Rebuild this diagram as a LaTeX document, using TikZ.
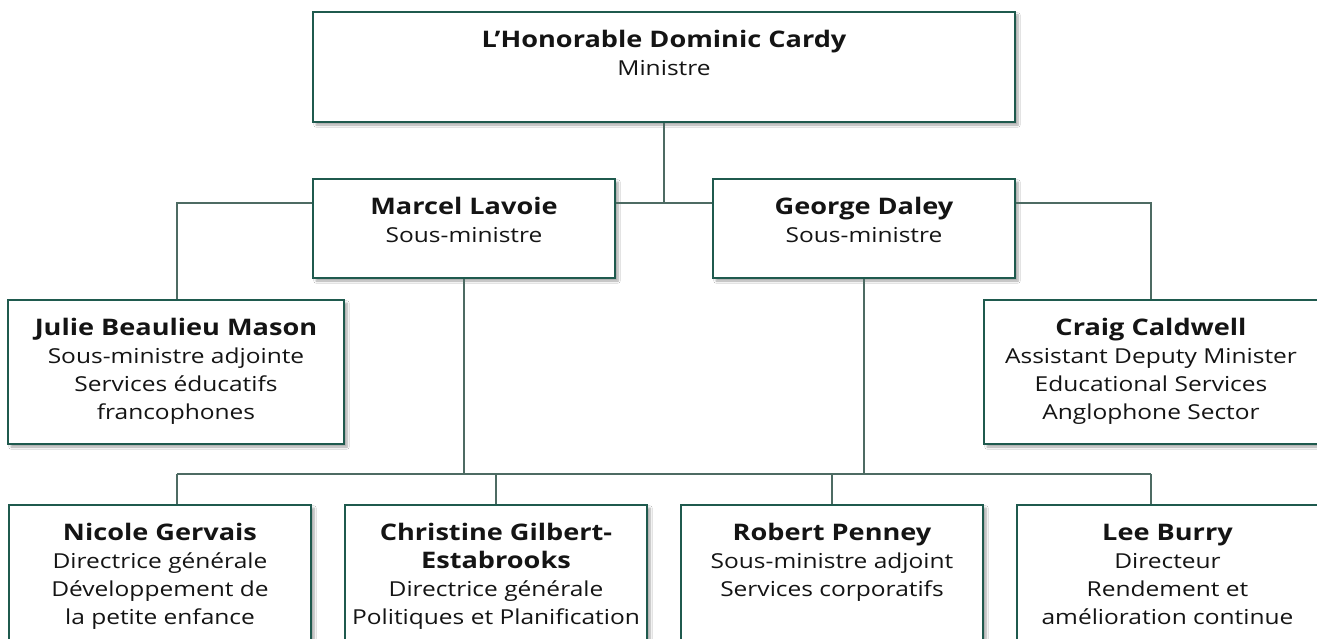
\documentclass[tikz,border=0pt]{standalone}
\usepackage{fontspec}
\setmainfont{Open Sans}[FakeStretch=1.19]
\usetikzlibrary{shadows.blur}
\definecolor{boxc}{HTML}{1F5A4E}
\definecolor{linec}{HTML}{4D6B63}
\tikzset{
  orgbox/.style={draw=boxc, line width=1.3pt, fill=white, inner sep=0pt,
    blur shadow={shadow xshift=3pt, shadow yshift=-3pt, shadow blur steps=6, shadow opacity=35}},
  lbl/.style={inner sep=0pt, align=center, font=\fontsize{20.6}{28}\selectfont, text=black!92},
  conn/.style={draw=linec, line width=1.6pt}
}
\newcommand{\nm}[1]{{\fontsize{22.8}{28}\selectfont\bfseries\rule{0pt}{18pt}#1}}
\newcommand{\orgnode}[6]{%
  \node[orgbox, minimum width={#4-#2}, minimum height={#5-#3}] (#1) at ({(#2+#4)/2},{(#3+#5)/2}) {};
  \node[lbl, anchor=north] (#1-t) at ([yshift=-18pt]#1.north) {#6};}
\begin{document}
\begin{tikzpicture}[x=1pt,y=-1pt]
\useasboundingbox (0,0) rectangle (1317,639);
\clip (0,0) rectangle (1317,639);
\fill[white] (0,0) rectangle (1317,639);

\orgnode{top}{313}{12}{1015}{122}{\nm{L’Honorable Dominic Cardy}\\Ministre}
\orgnode{marcel}{313}{179}{615}{278}{\nm{Marcel Lavoie}\\Sous-ministre}
\orgnode{george}{713}{179}{1015}{278}{\nm{George Daley}\\Sous-ministre}
\orgnode{julie}{8}{300}{344}{444}{\nm{Julie Beaulieu Mason}\\Sous-ministre adjointe\\Services éducatifs\\francophones}
\orgnode{craig}{984}{300}{1318}{444}{\nm{Craig Caldwell}\\Assistant Deputy Minister\\Educational Services\\Anglophone Sector}
\orgnode{nicole}{9}{505}{311}{690}{\nm{Nicole Gervais}\\Directrice générale\\Développement de\\la petite enfance}
\orgnode{christine}{345}{505}{647}{690}{\nm{Christine Gilbert-}\\\nm{Estabrooks}\\Directrice générale\\Politiques et Planification}
\orgnode{robert}{681}{505}{983}{690}{\nm{Robert Penney}\\Sous-ministre adjoint\\Services corporatifs}
\orgnode{lee}{1017}{505}{1318}{690}{\nm{Lee Burry}\\Directeur\\Rendement et\\amélioration continue}

\coordinate (jt) at (664,203);
\coordinate (busL) at (177,474);
\coordinate (busR) at (1151,474);

\draw[conn] (top.south) -- (jt);
\draw[conn] (marcel.east |- jt) -- (george.west |- jt);
\draw[conn] (marcel.west |- jt) -| (busL |- julie.north);
\draw[conn] (george.east |- jt) -| (craig.north);
\draw[conn] (marcel.south) -- (marcel.south |- busL);
\draw[conn] (george.south) -- (george.south |- busL);
\draw[conn] (busL) -- (busR);
\draw[conn] (busL) -- (busL |- nicole.north);
\draw[conn] (christine.north) -- (christine.north |- busL);
\draw[conn] (robert.north) -- (robert.north |- busL);
\draw[conn] (busR) -- (busR |- lee.north);
\end{tikzpicture}
\end{document}
